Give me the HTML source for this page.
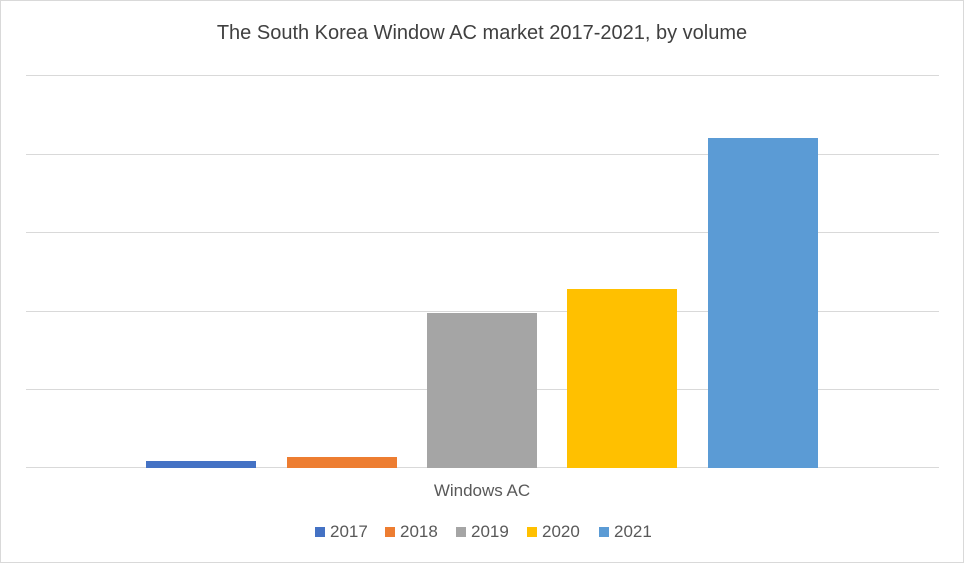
<!DOCTYPE html>
<html><head><style>
body{margin:0;background:#fff;}
#c{position:relative;width:962px;height:561px;border:1px solid #d9d9d9;background:#fff;font-family:"Liberation Sans","Noto Sans CJK SC",sans-serif;color:#404040;overflow:hidden}
.g{position:absolute;left:25px;width:913px;height:1px;background:#d9d9d9}
.b{position:absolute;width:110px}
.t{position:absolute;white-space:nowrap}
.lg{position:absolute;top:521px;font-size:17px;color:#595959}
.lg i{display:inline-block;width:10px;height:10px;margin-right:5px;vertical-align:0px}
</style></head><body><div id="c">
<div class="t" style="left:0;width:962px;text-align:center;top:21px;font-size:20px;">The South Korea Window AC market 2017-2021, by volume</div>
<div class="g" style="top:74px"></div>
<div class="g" style="top:153px"></div>
<div class="g" style="top:231px"></div>
<div class="g" style="top:310px"></div>
<div class="g" style="top:388px"></div>
<div class="g" style="top:466px"></div>
<div class="b" style="left:145px;top:460px;height:7px;background:#4472c4"></div>
<div class="b" style="left:286px;top:456px;height:11px;background:#ed7d31"></div>
<div class="b" style="left:426px;top:312px;height:155px;background:#a5a5a5"></div>
<div class="b" style="left:566px;top:288px;height:179px;background:#ffc000"></div>
<div class="b" style="left:707px;top:137px;height:330px;background:#5b9bd5"></div>
<div class="t" style="left:0;width:962px;text-align:center;top:480px;font-size:17px;color:#595959">Windows AC</div>
<div class="lg" style="left:314px"><i style="background:#4472c4"></i>2017</div>
<div class="lg" style="left:384px"><i style="background:#ed7d31"></i>2018</div>
<div class="lg" style="left:455px"><i style="background:#a5a5a5"></i>2019</div>
<div class="lg" style="left:526px"><i style="background:#ffc000"></i>2020</div>
<div class="lg" style="left:598px"><i style="background:#5b9bd5"></i>2021</div>
</div></body></html>
